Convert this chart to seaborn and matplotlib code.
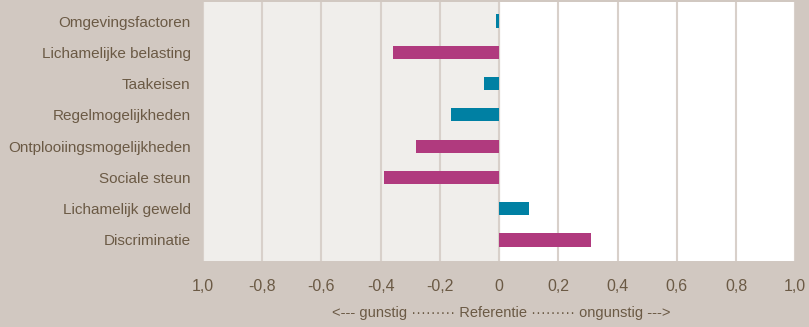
import pandas as pd
import matplotlib.pyplot as plt
import seaborn as sns

# Data
factoren = ["Omgevingsfactoren", "Lichamelijke belasting", "Taakeisen",
            "Regelmogelijkheden", "Ontplooiingsmogelijkheden", "Sociale steun",
            "Lichamelijk geweld", "Discriminatie"]
waarden = [-0.01, -0.36, -0.05, -0.163, -0.28, -0.39, 0.10, 0.31]
groep = ["a", "b", "a", "a", "b", "b", "a", "b"]
tick_pos = [-1.0, -0.8, -0.6, -0.4, -0.2, 0, 0.2, 0.4, 0.6, 0.8, 1.0]
tick_labels = ["1,0", "-0,8", "-0,6", "-0,4", "-0,2", "0", "0,2", "0,4", "0,6", "0,8", "1,0"]

df = pd.DataFrame({"factor": factoren, "waarde": waarden, "groep": groep})

achtergrond = "#d1c8c1"
tekst = "#6b5a45"
kleuren = {"a": "#0080a3", "b": "#b03a7e"}

sns.set_style("white")
plt.rcParams["font.family"] = ["Liberation Sans", "DejaVu Sans"]

fig = plt.figure(figsize=(8.09, 3.27), dpi=100, facecolor=achtergrond)
ax = fig.add_axes([0.251, 0.202, 0.732, 0.792])
ax.set_facecolor("white")

# linker helft licht grijs
ax.axvspan(-1.0, 0, color="#f0eeeb", zorder=0)
for t in tick_pos:
    ax.axvline(t, color="#d8d0ca", lw=1.5, zorder=1)

sns.barplot(data=df, x="waarde", y="factor", hue="groep", palette=kleuren,
            orient="h", width=0.42, dodge=False, legend=False, saturation=1,
            linewidth=0, edgecolor="none", ax=ax, zorder=2)

ax.set_xlim(-1.0, 1.0)
ax.set_ylim(7.67, -0.61)
ax.set_xticks(tick_pos)
ax.set_xticklabels(tick_labels)
ax.tick_params(axis="x", length=0, pad=13, labelsize=11.5, labelcolor=tekst)
ax.tick_params(axis="y", length=0, pad=9, labelsize=11, labelcolor=tekst)
ax.set_xlabel("")
ax.set_ylabel("")
for s in ax.spines.values():
    s.set_visible(False)

fig.text(0.619, 0.042, "<--- gunstig ········· Referentie ········· ongunstig --->",
         ha="center", va="center", fontsize=10.5, color=tekst)

fig.savefig("out.png", dpi=100, facecolor=achtergrond)
